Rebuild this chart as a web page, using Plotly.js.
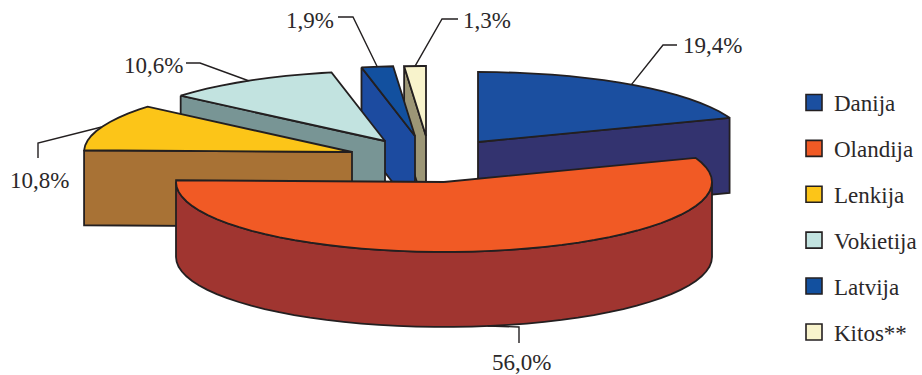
<!DOCTYPE html>
<html>
<head>
<meta charset="utf-8">
<script src="https://cdn.plot.ly/plotly-3.0.1.min.js"></script>
<style>html,body{margin:0;padding:0;background:#fff;overflow:hidden}</style>
</head>
<body>
<div id="chart" style="width:922px;height:375px"></div>
<script>
// ---- data ----
var categories = ["Danija", "Olandija", "Lenkija", "Vokietija", "Latvija", "Kitos**"];
var shares = [19.4, 56.0, 10.8, 10.6, 1.9, 1.3];
var shareLabels = ["19,4%", "56,0%", "10,8%", "10,6%", "1,9%", "1,3%"];

// ---- styling ----
var topColors = ["#1b4fa0", "#f15a25", "#fcc518", "#c2e3e0", "#12509f", "#f8f3cc"];
var sideColors = ["#33336f", "#a03530", "#a87235", "#789595", "#1c4ba0", "#9c9676"];
var INK = "#231f20";
var TEXT = "#2b2829";
var FONT = "Liberation Serif";

// ---- projection: view is pixel sized, each slice is exploded to its own centre ----
var RX = 268, RY = 70, DEPTH = 75, STEP = 4;
var centres = [[478, 142], [444, 182], [352, 152], [385, 141], [415, 136], [426, 136]];
var drawOrder = [5, 4, 3, 2, 0, 1];
var elbows = [
  [[663, 45], [677, 45]],
  [[519, 327], [519, 343]],
  [[38, 143], [38, 158]],
  [[200, 63], [186, 63]],
  [[353, 17], [338, 17]],
  [[442, 19], [458, 19]]
];
var labelPos = [[712, 45], [521, 362], [39, 180], [153, 65], [310, 20], [487, 20]];

function rad(d) { return d * Math.PI / 180; }
function rimPoint(c, deg) {
  return [c[0] + RX * Math.sin(rad(deg)), c[1] - RY * Math.cos(rad(deg))];
}
function arc(c, a0, a1) {
  var pts = [], d = a0;
  while (d < a1) { pts.push(rimPoint(c, d)); d += STEP; }
  pts.push(rimPoint(c, a1));
  return pts;
}
function poly(pts, fill, name) {
  var closed = pts.concat([pts[0]]);
  return {
    type: "scatter", mode: "lines", fill: "toself", fillcolor: fill,
    x: closed.map(function (p) { return p[0]; }),
    y: closed.map(function (p) { return p[1]; }),
    line: { color: INK, width: 1.8, simplify: false },
    name: name, showlegend: false, hoverinfo: "skip"
  };
}
function down(p) { return [p[0], p[1] + DEPTH]; }

var total = shares.reduce(function (a, b) { return a + b; }, 0);
var starts = [], ends = [], run = 0;
shares.forEach(function (v) {
  starts.push(run / total * 360);
  run += v;
  ends.push(run / total * 360);
});

var traces = [];
drawOrder.forEach(function (i) {
  var c = centres[i], a0 = starts[i], a1 = ends[i];
  // radial cut faces
  if (a0 > 180) {
    var s = rimPoint(c, a0);
    traces.push(poly([s, c, down(c), down(s)], sideColors[i], categories[i]));
  }
  if (a1 < 180) {
    var e = rimPoint(c, a1);
    traces.push(poly([c, e, down(e), down(c)], sideColors[i], categories[i]));
  }
  // outer wall, front half only
  var w0 = Math.max(a0, 90), w1 = Math.min(a1, 270);
  if (w1 > w0) {
    var rim = arc(c, w0, w1);
    traces.push(poly(rim.concat(rim.slice().reverse().map(down)), sideColors[i], categories[i]));
  }
  // top face
  traces.push(poly([c].concat(arc(c, a0, a1)), topColors[i], categories[i]));
});

// leader lines start on the slice rim at the slice's middle angle
categories.forEach(function (name, i) {
  var mid = (starts[i] + ends[i]) / 2;
  var p = rimPoint(centres[i], mid);
  if (mid > 90 && mid < 270) p = down(p);
  var pts = [p].concat(elbows[i]);
  traces.push({
    type: "scatter", mode: "lines",
    x: pts.map(function (q) { return q[0]; }),
    y: pts.map(function (q) { return q[1]; }),
    line: { color: INK, width: 1.4 }, showlegend: false, hoverinfo: "skip"
  });
});

// legend entries
categories.forEach(function (name, i) {
  traces.push({
    type: "scatter", mode: "markers", x: [null], y: [null], name: name,
    marker: { symbol: "square", size: 16, color: topColors[i], line: { color: INK, width: 1.6 } },
    hoverinfo: "skip", legendgroup: name
  });
});

var annotations = categories.map(function (name, i) {
  return {
    x: labelPos[i][0], y: labelPos[i][1], xref: "x", yref: "y",
    text: shareLabels[i], showarrow: false, xanchor: "center", yanchor: "middle",
    font: { family: FONT, size: 23, color: TEXT }
  };
});

var layout = {
  width: 922, height: 375,
  margin: { l: 0, r: 0, t: 0, b: 0 },
  paper_bgcolor: "#fff", plot_bgcolor: "#fff",
  xaxis: { range: [0, 922], visible: false, fixedrange: true },
  yaxis: { range: [375, 0], visible: false, fixedrange: true },
  showlegend: true,
  legend: {
    x: 794 / 922, xanchor: "left", y: 1 - 81 / 375, yanchor: "top",
    font: { family: FONT, size: 23, color: TEXT },
    tracegroupgap: 13, itemclick: false, itemdoubleclick: false,
    bgcolor: "rgba(0,0,0,0)"
  },
  annotations: annotations
};

Plotly.newPlot("chart", traces, layout, { displayModeBar: false, staticPlot: true });
</script>
</body>
</html>
